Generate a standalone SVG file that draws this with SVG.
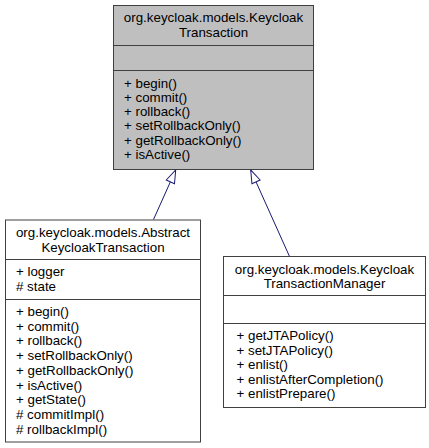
<svg xmlns="http://www.w3.org/2000/svg" width="429" height="448" viewBox="0 0 429 448">
<style>
.box{stroke:#404040;stroke-width:1}
.gray{fill:#bfbfbf}
.white{fill:#ffffff}
.sep{stroke:#404040;stroke-width:1}
text{font-family:"Liberation Sans",Arial,sans-serif;font-size:13.33px;fill:#000}
.c{text-anchor:middle}
.edge{stroke:#191970;stroke-width:1;fill:none}
</style>
<defs>
<marker id="inh" markerUnits="userSpaceOnUse" markerWidth="15" markerHeight="11" refX="13" refY="4.5" orient="auto" overflow="visible">
<path d="M0,0 L13,4.5 L0,9 Z" fill="#ffffff" stroke="#191970" stroke-width="1"/>
</marker>
</defs>
<rect width="429" height="448" fill="#ffffff"/>
<g id="connectors">
<line class="edge" x1="153.5" y1="219.5" x2="175.7" y2="170" marker-end="url(#inh)"/>
<line class="edge" x1="289.3" y1="256" x2="250.7" y2="170" marker-end="url(#inh)"/>
</g>
<g id="KeycloakTransaction">
<rect class="box gray" x="113.5" y="5.5" width="200" height="164"/>
<line class="sep" x1="113.5" y1="45.5" x2="313.5" y2="45.5"/>
<line class="sep" x1="113.5" y1="70.5" x2="313.5" y2="70.5"/>
<text class="c" x="213.5" y="22.3">org.keycloak.models.Keycloak</text>
<text class="c" x="213.5" y="36.7">Transaction</text>
<text x="124" y="87.7">+ begin()</text>
<text x="124" y="101.9">+ commit()</text>
<text x="124" y="116.1">+ rollback()</text>
<text x="124" y="130.3">+ setRollbackOnly()</text>
<text x="124" y="144.5">+ getRollbackOnly()</text>
<text x="124" y="158.7">+ isActive()</text>
</g>
<g id="AbstractKeycloakTransaction">
<rect class="box white" x="5.5" y="220" width="195" height="222"/>
<line class="sep" x1="5.5" y1="259.5" x2="200.5" y2="259.5"/>
<line class="sep" x1="5.5" y1="299.5" x2="200.5" y2="299.5"/>
<text class="c" x="103" y="237.3">org.keycloak.models.Abstract</text>
<text class="c" x="103" y="251.7">KeycloakTransaction</text>
<text x="16" y="276">+ logger</text>
<text x="16" y="290.5"># state</text>
<text x="16" y="316">+ begin()</text>
<text x="16" y="330.7">+ commit()</text>
<text x="16" y="345.4">+ rollback()</text>
<text x="16" y="360.1">+ setRollbackOnly()</text>
<text x="16" y="374.8">+ getRollbackOnly()</text>
<text x="16" y="389.5">+ isActive()</text>
<text x="16" y="404.2">+ getState()</text>
<text x="16" y="418.9"># commitImpl()</text>
<text x="16" y="433.6"># rollbackImpl()</text>
</g>
<g id="KeycloakTransactionManager">
<rect class="box white" x="223.5" y="256.5" width="202" height="151"/>
<line class="sep" x1="223.5" y1="295.5" x2="425.5" y2="295.5"/>
<line class="sep" x1="223.5" y1="323.5" x2="425.5" y2="323.5"/>
<text class="c" x="324.5" y="273.5">org.keycloak.models.Keycloak</text>
<text class="c" x="324.5" y="288">TransactionManager</text>
<text x="236.5" y="340">+ getJTAPolicy()</text>
<text x="236.5" y="354.5">+ setJTAPolicy()</text>
<text x="236.5" y="369">+ enlist()</text>
<text x="236.5" y="383.5">+ enlistAfterCompletion()</text>
<text x="236.5" y="398">+ enlistPrepare()</text>
</g>
</svg>
